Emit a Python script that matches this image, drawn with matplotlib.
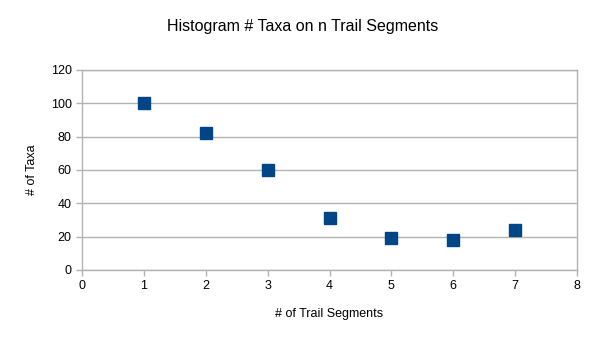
import matplotlib
matplotlib.use("Agg")
import matplotlib.pyplot as plt

segments = [1, 2, 3, 4, 5, 6, 7]
taxa = [100, 82, 60, 31, 19, 18, 24]
x_ticks = [0, 1, 2, 3, 4, 5, 6, 7, 8]
y_ticks = [0, 20, 40, 60, 80, 100, 120]

plt.rcParams['font.family'] = ['Liberation Sans', 'DejaVu Sans']
grey = "#b3b3b3"

fig = plt.figure(figsize=(6.06, 3.41), dpi=100)
ax = fig.add_axes([82 / 606, 1 - 270 / 341, (577 - 82) / 606, 200 / 341])

ax.plot(segments, taxa, linestyle="none", marker="s", markersize=8,
        color="#004586", zorder=3)

ax.set_xlim(0, 8)
ax.set_ylim(0, 120)
ax.set_xticks(x_ticks)
ax.set_yticks(y_ticks)
ax.yaxis.grid(True, color=grey, linewidth=1)
ax.set_axisbelow(True)
for s in ax.spines.values():
    s.set_color(grey)
    s.set_linewidth(1)
ax.tick_params(axis="both", colors=grey, labelcolor="black", labelsize=9,
               length=4, width=1)

ax.set_xlabel("# of Trail Segments", fontsize=9, labelpad=11)
ax.set_ylabel("# of Taxa", fontsize=9, labelpad=9)
fig.suptitle("Histogram # Taxa on n Trail Segments", fontsize=11.5, y=0.945)

fig.savefig("out.png", dpi=100)
